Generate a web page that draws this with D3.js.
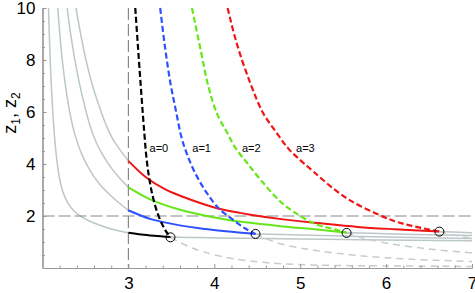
<!DOCTYPE html>
<meta charset="utf-8">
<script src="https://d3js.org/d3.v7.min.js"></script>
<style>
  body { margin: 0; background: #fff; }
  text { font-family: "Liberation Sans", Arial, sans-serif; }
</style>
<svg id="chart" width="475" height="293"></svg>
<script>
// tick labels
var xTicks = [3, 4, 5, 6, 7];
var yTicks = [2, 4, 6, 8, 10];

// parameter a, one family per value
var aValues = [0, 1, 2, 3];

// gray branch of z1 left of x = 3
var grayLeft = [
  [[2.07,10],[2.085,8.4],[2.1,7.2],[2.12,6.0],[2.14,5.05],[2.165,4.2],[2.195,3.5],[2.235,2.95],[2.29,2.52],[2.37,2.18],[2.46,1.96],[2.6,1.73],[2.8,1.5],[3.0,1.36]],
  [[2.178,10],[2.2,9.05],[2.23,8.0],[2.27,6.95],[2.32,5.95],[2.38,5.1],[2.46,4.35],[2.56,3.72],[2.67,3.2],[2.79,2.8],[2.9,2.48],[3.0,2.22]],
  [[2.287,10],[2.33,8.95],[2.38,7.95],[2.43,7.1],[2.49,6.25],[2.555,5.45],[2.63,4.8],[2.71,4.3],[2.8,3.85],[2.9,3.45],[3.0,3.1]],
  [[2.39,10],[2.45,8.9],[2.52,7.8],[2.58,7.05],[2.636,6.45],[2.7,5.85],[2.76,5.35],[2.82,4.95],[2.88,4.65],[2.94,4.37],[3.0,4.12]]
];

// coloured z1 between x = 3 and the meeting point
var solidZ1 = [
  [[3.0,1.36],[3.15,1.29],[3.3,1.24],[3.49,1.19]],
  [[3.0,2.22],[3.26,1.88],[3.6,1.64],[3.9,1.5],[4.2,1.39],[4.48,1.31]],
  [[3.0,3.1],[3.26,2.63],[3.59,2.25],[3.9,2.01],[4.2,1.83],[4.42,1.74],[4.8,1.6],[5.2,1.48],[5.54,1.36]],
  [[3.0,4.12],[3.2,3.5],[3.43,3.02],[3.64,2.73],[4.03,2.3],[4.3,2.12],[4.42,2.05],[4.8,1.87],[5.2,1.73],[5.67,1.58],[6.1,1.49],[6.62,1.40]]
];

// gray z1 after the meeting point
var grayRight = [
  [[3.49,1.19],[3.8,1.17],[4.36,1.14],[5.0,1.12],[5.7,1.09],[6.3,1.07],[7.0,1.05]],
  [[4.48,1.31],[5.0,1.27],[5.7,1.21],[6.3,1.17],[7.0,1.13]],
  [[5.54,1.36],[6.0,1.32],[6.5,1.28],[7.0,1.25]],
  [[6.62,1.40],[7.0,1.36]]
];

// coloured z2 (dashed) down to the meeting point
var dashedZ2 = [
  [[3.08,10],[3.12,8.1],[3.155,6.5],[3.185,5.2],[3.21,4.25],[3.24,3.5],[3.28,2.8],[3.33,2.2],[3.39,1.7],[3.44,1.4],[3.49,1.18]],
  [[3.37,10],[3.43,8.4],[3.49,7.1],[3.55,6.1],[3.62,5.0],[3.68,4.4],[3.77,3.7],[3.9,2.95],[4.05,2.3],[4.22,1.85],[4.36,1.52],[4.48,1.31]],
  [[3.74,10],[3.84,8.4],[3.93,7.0],[4.03,5.95],[4.15,5.2],[4.24,4.65],[4.38,4.05],[4.55,3.35],[4.78,2.52],[5.0,2.0],[5.2,1.66],[5.4,1.49],[5.54,1.35]],
  [[4.155,10],[4.26,8.65],[4.42,7.1],[4.57,5.95],[4.73,5.18],[4.86,4.6],[5.0,4.15],[5.15,3.72],[5.35,3.15],[5.58,2.6],[5.88,2.1],[6.1,1.8],[6.3,1.62],[6.62,1.40]]
];

// gray dashed z2 after the meeting point
var grayDashed = [
  [[3.49,1.18],[3.6,0.98],[3.74,0.77],[3.9,0.6],[4.05,0.47],[4.22,0.36],[4.5,0.24],[4.8,0.16],[5.2,0.11],[6.0,0.08],[7.0,0.06]],
  [[4.48,1.31],[4.6,1.13],[4.77,0.93],[5.0,0.77],[5.23,0.65],[5.7,0.47],[6.28,0.34],[7.0,0.25]],
  [[5.54,1.35],[5.7,1.18],[6.0,0.96],[6.5,0.73],[7.0,0.58]],
  [[6.62,1.40],[6.8,1.26],[7.0,1.14]]
];

// meeting points z1 = z2
var meetX = [3.49, 4.48, 5.54, 6.62];
var meetZ = [1.18, 1.31, 1.35, 1.40];

// label anchors (data units)
var labelX = [3.355, 3.853, 4.43, 5.06];
var labelZ = 4.47;

var lineX = 3, lineZ = 2;

var colors = ["#000000", "#2f50ff", "#66e619", "#f01414"];

var svg = d3.select("#chart");

var x = d3.scaleLinear().domain([2, 7]).range([42.5, 472]);
var y = d3.scaleLinear().domain([0, 10]).range([268, 8]);

svg.append("defs").append("clipPath").attr("id", "clip")
  .append("rect").attr("x", 42.5).attr("y", 7).attr("width", 433).attr("height", 262);

var line = d3.line()
  .x(function(d) { return x(d[0]); })
  .y(function(d) { return y(d[1]); })
  .curve(d3.curveCatmullRom.alpha(0.5));

var plot = svg.append("g").attr("clip-path", "url(#clip)");

// gray curves
plot.selectAll(".gl").data(grayLeft.concat(grayRight)).enter().append("path")
  .attr("d", line).attr("fill", "none")
  .attr("stroke", "#bcc7c7").attr("stroke-width", 1.5);

plot.selectAll(".gd").data(grayDashed).enter().append("path")
  .attr("d", line).attr("fill", "none")
  .attr("stroke", "#c6cccc").attr("stroke-width", 1.5)
  .attr("stroke-dasharray", "7,5");

// reference lines
plot.append("line")
  .attr("x1", x(lineX)).attr("x2", x(lineX)).attr("y1", y(10)).attr("y2", y(0))
  .attr("stroke", "#888").attr("stroke-width", 1.2).attr("stroke-dasharray", "12,4");
plot.append("line")
  .attr("x1", x(2)).attr("x2", x(7)).attr("y1", y(lineZ)).attr("y2", y(lineZ))
  .attr("stroke", "#888").attr("stroke-width", 1.2).attr("stroke-dasharray", "12,4");

// coloured curves
plot.selectAll(".s").data(solidZ1).enter().append("path")
  .attr("d", line).attr("fill", "none")
  .attr("stroke", function(d, i) { return colors[i]; })
  .attr("stroke-width", 2);

plot.selectAll(".d").data(dashedZ2).enter().append("path")
  .attr("d", line).attr("fill", "none")
  .attr("stroke", function(d, i) { return colors[i]; })
  .attr("stroke-width", 2.2)
  .attr("stroke-dasharray", "6,3");

// meeting points
svg.selectAll(".pt").data(meetX).enter().append("circle")
  .attr("cx", function(d) { return x(d); })
  .attr("cy", function(d, i) { return y(meetZ[i]); })
  .attr("r", 4.5)
  .attr("fill", "none").attr("stroke", "#000").attr("stroke-width", 1);

// labels
svg.selectAll(".lab").data(aValues).enter().append("text")
  .attr("x", function(d, i) { return x(labelX[i]); })
  .attr("y", y(labelZ))
  .attr("text-anchor", "middle")
  .style("font-size", "11px")
  .text(function(d) { return "a=" + d; });

// axes
var axisColor = "#999";
var fmt = d3.format("d");
var minorY = d3.range(1, 20).map(function(i) { return i / 2; })
  .filter(function(v) { return v % 2 !== 0; });
var minorX = d3.range(11, 35).map(function(i) { return i / 5; })
  .filter(function(v) { return Math.abs(v - Math.round(v)) > 1e-6; });

var gy = svg.append("g").attr("transform", "translate(" + x(2) + ",0)")
  .call(d3.axisLeft(y).tickValues(yTicks).tickFormat(fmt).tickSize(-4).tickSizeOuter(0).tickPadding(7));
var gyMinor = svg.append("g").attr("transform", "translate(" + x(2) + ",0)")
  .call(d3.axisLeft(y).tickValues(minorY).tickSize(-2.5).tickSizeOuter(0).tickFormat(""));

var gx = svg.append("g").attr("transform", "translate(0," + y(0) + ")")
  .call(d3.axisBottom(x).tickValues(xTicks).tickFormat(fmt).tickSize(-4).tickSizeOuter(0).tickPadding(9));
var gxMinor = svg.append("g").attr("transform", "translate(0," + y(0) + ")")
  .call(d3.axisBottom(x).tickValues(minorX).tickSize(-2.5).tickSizeOuter(0).tickFormat(""));

[gy, gyMinor, gx, gxMinor].forEach(function(g) {
  g.selectAll("path").attr("stroke", axisColor).attr("stroke-width", 1.2);
  g.selectAll("line").attr("stroke", axisColor);
  g.selectAll("text").attr("fill", "#000").style("font-size", "17px")
    .style("font-family", "'Liberation Sans', Arial, sans-serif");
});

// y axis title
var title = svg.append("text")
  .attr("transform", "translate(16,113) rotate(-90)")
  .attr("text-anchor", "middle")
  .style("font-size", "18px");
title.append("tspan").text("z");
title.append("tspan").attr("dy", 4).style("font-size", "12px").text("1");
title.append("tspan").attr("dy", -4).text(", z");
title.append("tspan").attr("dy", 4).style("font-size", "12px").text("2");
</script>
